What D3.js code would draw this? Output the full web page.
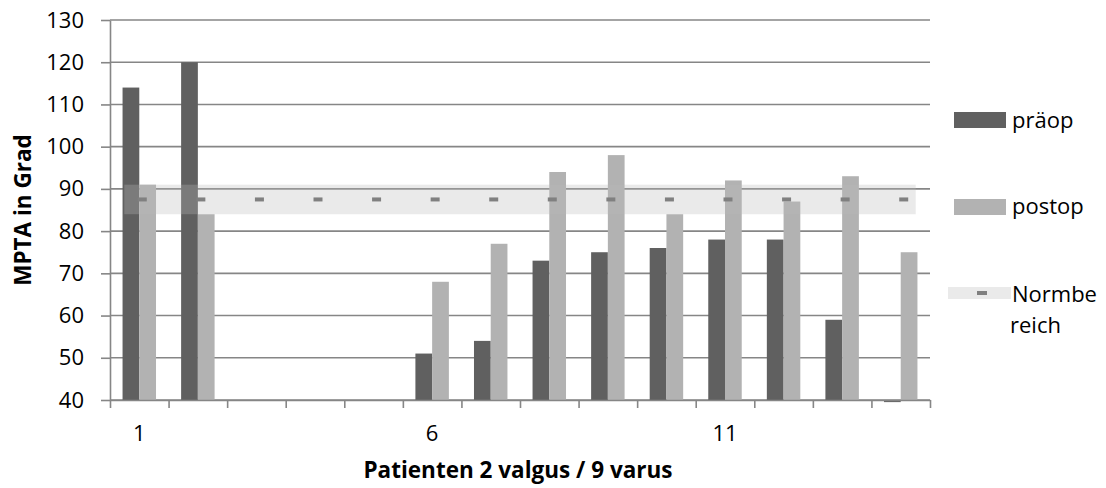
<!DOCTYPE html>
<html>
<head>
<meta charset="utf-8">
<script src="https://cdn.jsdelivr.net/npm/d3@7"></script>
<style>
  body { margin: 0; background: #fff; }
  text { font-family: "Open Sans", sans-serif; fill: #000; }
</style>
</head>
<body>
<div id="chart"></div>
<script>
// values
var categories = ["1","2","3","4","5","6","7","8","9","10","11","12","13","14"];
var praeop = [114, 120, null, null, null, 51, 54, 73, 75, 76, 78, 78, 59, 39.5];
var postop = [91, 84, null, null, null, 68, 77, 94, 98, 84, 92, 87, 93, 75];
var normRange = [84, 91];
var normValue = 87.5;
var yTicks = [40, 50, 60, 70, 80, 90, 100, 110, 120, 130];
var xLabels = ["1", "6", "11"];
var seriesNames = ["präop", "postop"];

var svgW = 1106;
var svgH = 488;
var margin = { top: 20, right: 176, bottom: 88, left: 110 };
var w = svgW - margin.left - margin.right;
var h = svgH - margin.top - margin.bottom;

var gridColor = "#868686";
var colors = { "präop": "#606060", "postop": "#b2b2b2" };
var fontSize = 22;

var svg = d3.select("#chart").append("svg")
    .attr("width", svgW).attr("height", svgH);

var chartGroup = svg.append("g")
    .attr("transform", `translate(${margin.left}, ${margin.top})`);

var x = d3.scaleBand().domain(categories).range([0, w]).padding(0);
var x1 = d3.scaleBand().domain(seriesNames).range([0, x.bandwidth()])
    .paddingInner(0).paddingOuter(0.75);
var xEdges = d3.scaleLinear().domain([0, categories.length]).range([0, w]);
var y = d3.scaleLinear().domain([40, 130]).range([h, 0]);

// gridlines
chartGroup.append("g").selectAll("line")
    .data(yTicks).enter().append("line")
    .attr("x1", 0).attr("x2", w)
    .attr("y1", d => y(d)).attr("y2", d => y(d))
    .attr("stroke", gridColor).attr("stroke-width", 1.6);

// bars
var rows = categories.map(function(c, i) {
    return { cat: c, values: [
        { name: "präop", v: praeop[i] },
        { name: "postop", v: postop[i] } ] };
});

var groups = chartGroup.selectAll(".grp")
    .data(rows).enter().append("g")
    .attr("class", "grp")
    .attr("transform", d => `translate(${x(d.cat)}, 0)`);

groups.selectAll("rect")
    .data(d => d.values.filter(e => e.v != null)).enter().append("rect")
    .attr("x", d => x1(d.name))
    .attr("width", x1.bandwidth())
    .attr("y", d => Math.min(y(d.v), y(40)))
    .attr("height", d => Math.abs(y(40) - y(d.v)))
    .attr("fill", d => colors[d.name]);

// normal range band
var first = x(categories[0]) + x.bandwidth() / 2;
var last = x(categories[categories.length - 1]) + x.bandwidth() / 2;
chartGroup.append("rect")
    .attr("x", first - 15).attr("width", last - first + 30)
    .attr("y", y(normRange[1])).attr("height", y(normRange[0]) - y(normRange[1]))
    .attr("fill", "rgb(187,187,187)").attr("fill-opacity", 0.3);

chartGroup.append("g").selectAll("rect")
    .data(categories).enter().append("rect")
    .attr("x", d => x(d) + x.bandwidth() / 2 - 1.5)
    .attr("y", y(normValue) - 2)
    .attr("width", 9).attr("height", 4)
    .attr("fill", "#808080");

// axes
var yAxis = d3.axisLeft(y).tickValues(yTicks).tickSize(9).tickSizeOuter(0);
var yg = chartGroup.append("g").call(yAxis);
yg.select(".domain").attr("stroke", gridColor).attr("stroke-width", 1.6);
yg.selectAll(".tick line").attr("stroke", gridColor).attr("stroke-width", 1.6);
yg.selectAll(".tick text").attr("font-size", fontSize).attr("x", -26)
    .style("font-family", "Open Sans");

var tickAxis = d3.axisBottom(xEdges).tickValues(d3.range(categories.length + 1))
    .tickFormat("").tickSize(8).tickSizeOuter(0);
var xg = chartGroup.append("g")
    .attr("transform", `translate(0, ${h})`).call(tickAxis);
xg.select(".domain").attr("stroke", gridColor).attr("stroke-width", 1.6);
xg.selectAll(".tick line").attr("stroke", gridColor).attr("stroke-width", 1.6);

var labelAxis = d3.axisBottom(x).tickValues(xLabels).tickSize(0);
var xl = chartGroup.append("g")
    .attr("transform", `translate(0, ${h})`).call(labelAxis);
xl.select(".domain").remove();
xl.selectAll(".tick text").attr("font-size", fontSize).attr("y", 41)
    .attr("dy", 0).style("font-family", "Open Sans");

// axis titles
svg.append("text")
    .attr("transform", "translate(31, 210) rotate(-90)")
    .attr("text-anchor", "middle")
    .attr("font-size", 22.5).attr("font-weight", "bold")
    .text("MPTA in Grad");

svg.append("text")
    .attr("x", 518).attr("y", 478)
    .attr("text-anchor", "middle")
    .attr("font-size", 22.5).attr("font-weight", "bold")
    .text("Patienten 2 valgus / 9 varus");

// legend
var legend = svg.append("g");
legend.append("rect").attr("x", 954).attr("y", 112).attr("width", 52).attr("height", 16)
    .attr("fill", colors["präop"]);
legend.append("text").attr("x", 1012).attr("y", 128).attr("font-size", fontSize).text("präop");

legend.append("rect").attr("x", 954).attr("y", 199).attr("width", 52).attr("height", 16)
    .attr("fill", colors["postop"]);
legend.append("text").attr("x", 1012).attr("y", 214).attr("font-size", fontSize).text("postop");

legend.append("rect").attr("x", 948).attr("y", 287).attr("width", 63).attr("height", 12)
    .attr("fill", "rgb(187,187,187)").attr("fill-opacity", 0.3);
legend.append("rect").attr("x", 977).attr("y", 291).attr("width", 10).attr("height", 4)
    .attr("fill", "#808080");
legend.append("text").attr("x", 1012).attr("y", 302).attr("font-size", fontSize).text("Normbe");
legend.append("text").attr("x", 1010).attr("y", 333).attr("font-size", fontSize).text("reich");
</script>
</body>
</html>
